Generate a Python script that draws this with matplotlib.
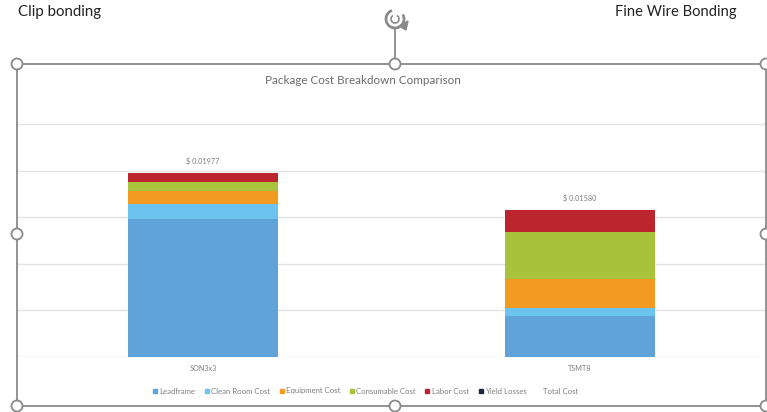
import numpy as np
import matplotlib.pyplot as plt
from matplotlib.patches import Circle, Arc, Polygon
from matplotlib.lines import Line2D

# data (cost per unit, $)
packages      = ["SON3x3", "TSMT8"]
series_names  = ["Leadframe", "Clean Room Cost", "Equipment Cost",
                 "Consumable Cost", "Labor Cost", "Yield Losses"]
leadframe     = [0.01481, 0.00438]
clean_room    = [0.00158, 0.00089]
equipment     = [0.00146, 0.00309]
consumable    = [0.00094, 0.00509]
labor         = [0.00098, 0.00235]
yield_losses  = [0.0, 0.0]
total_cost    = [0.01977, 0.01580]
total_labels  = ["$ 0.01977", "$ 0.01580"]

colors = ["#5fa3d8", "#6cc4ee", "#f39a21", "#a8c23c", "#bc252d", "#1c2740"]
FONT = "Lato"
GREY = "#7f7f7f"

W, H = 767, 412
fig = plt.figure(figsize=(W / 100, H / 100), dpi=100)
fig.patch.set_facecolor("white")

# chart plot area (pixel geometry)
left, right, base, top = 17, 765, 356.7, 95
ax = fig.add_axes([left / W, (H - base) / H, (right - left) / W, (base - top) / H])
px_per_unit = 377.0
ax.set_xlim(-(203 - left) / px_per_unit, 1 + (right - 580) / px_per_unit)
ax.set_ylim(0, (base - top) / 9.3 * 0.001)

x = np.arange(len(packages))
stack = [leadframe, clean_room, equipment, consumable, labor, yield_losses]
bottom = np.zeros(len(packages))
for vals, c in zip(stack, colors):
    ax.bar(x, vals, width=0.398, bottom=bottom, color=c, zorder=3)
    bottom += np.array(vals)

for xi, tot, lab in zip(x, total_cost, total_labels):
    ax.annotate(lab, (xi, tot), xytext=(0, 5.5), textcoords="offset points",
                ha="center", va="bottom", fontsize=5.2, color=GREY, family=FONT)

ax.set_yticks(np.arange(0, 0.0251, 0.005))
ax.yaxis.grid(True, color="#e3e3e3", lw=1.0, zorder=0)
ax.set_yticklabels([])
ax.set_xticks(x)
ax.set_xticklabels(packages, fontsize=5.2, color=GREY, family=FONT)
ax.tick_params(length=0, pad=6)
for s in ax.spines.values():
    s.set_visible(False)

fig.text(363 / W, 1 - 80 / H, "Package Cost Breakdown Comparison", ha="center",
         va="center", fontsize=8.4, color="#6b6b6b", family=FONT)

# legend
handles = [Line2D([], [], ls="", marker="s", ms=3, color=c) for c in colors]
handles.append(Line2D([], [], ls="", marker=None))
leg = fig.legend(handles, series_names + ["Total Cost"], loc="center",
                 bbox_to_anchor=(365 / W, 1 - 391 / H), ncol=7, frameon=False,
                 prop={"family": FONT, "size": 5.6}, handlelength=0.6,
                 handletextpad=0.25, columnspacing=1.2)
for t in leg.get_texts():
    t.set_color(GREY)

# selection frame drawn over everything, in pixel units
ov = fig.add_axes([0, 0, 1, 1], zorder=10)
ov.set_xlim(0, W)
ov.set_ylim(H, 0)
ov.axis("off")
fx0, fx1, fy0, fy1 = 17, 766, 64, 406
frame_c = "#8a8a8a"
ov.plot([fx0, fx1, fx1, fx0, fx0], [fy0, fy0, fy1, fy1, fy0], color=frame_c, lw=1.3)
ov.plot([395, 395], [30, fy0], color=frame_c, lw=1.3)
for hx, hy in [(fx0, fy0), (395, fy0), (fx1, fy0), (fx0, 234), (fx1, 234),
               (fx0, fy1), (395, fy1), (fx1, fy1)]:
    ov.add_patch(Circle((hx, hy), 5.5, facecolor="white", edgecolor=frame_c, lw=1.3, zorder=5))
# rotate handle
ov.add_patch(Arc((395, 19), 18, 18, theta1=-30, theta2=250, color=frame_c, lw=2.0))
ov.add_patch(Arc((395, 19), 8, 8, theta1=-60, theta2=240, color=frame_c, lw=1.2))
ov.add_patch(Polygon([[399, 26], [408, 21], [406, 30]], closed=True, color=frame_c))

ov.text(18, 12, "Clip bonding", ha="left", va="center", fontsize=10.8, family=FONT, color="#222222")
ov.text(615, 12, "Fine Wire Bonding", ha="left", va="center", fontsize=10.6, family=FONT, color="#222222")

fig.savefig("out.png", dpi=100)
